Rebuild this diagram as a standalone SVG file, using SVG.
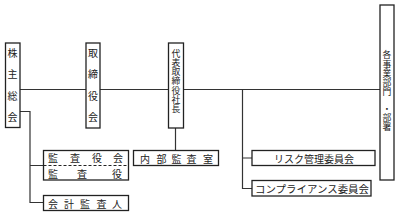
<svg xmlns="http://www.w3.org/2000/svg" width="399" height="216" viewBox="0 0 399 216">
<style>
.box{fill:#fff;stroke:#222;stroke-width:1.3}
.ln{fill:none;stroke:#333;stroke-width:1.2}
text{font-family:"Noto Sans CJK JP","Noto Sans CJK SC",sans-serif;font-size:10px;fill:#222;text-anchor:middle;dominant-baseline:central}
.v{writing-mode:vertical-rl;text-anchor:start}
.v4{font-size:10px;letter-spacing:11.5px}
.v7{font-size:8.8px;letter-spacing:0.4px}
</style>
<rect width="399" height="216" fill="#fff"/>
<g id="connectors">
<path class="ln" d="M20 89.5H380"/>
<path class="ln" d="M20 111.5H30V202.5H43.5M30 165.5H43.5"/>
<path class="ln" d="M175.5 128V150.5"/>
<path class="ln" d="M242.5 89.5V188.5H252M242.5 158H252"/>
</g>
<g id="kabunushi">
<rect class="box" x="5.5" y="43" width="14.5" height="84.5"/>
<text class="v v4" x="12.5" y="48">株主総会</text>
</g>
<g id="torishimariyakukai">
<rect class="box" x="86" y="43" width="14" height="85"/>
<text class="v v4" x="93" y="48">取締役会</text>
</g>
<g id="daihyo">
<rect class="box" x="168.5" y="43" width="15" height="85"/>
<text class="v v7" x="176" y="49">代表取締役社長</text>
</g>
<g id="jigyobumon">
<rect class="box" x="380" y="5" width="14" height="175"/>
<text class="v v7" x="387" y="50.6">各事業部門</text>
<text class="v v7" x="387" y="104">・部署</text>
</g>
<g id="kansayakukai">
<rect class="box" x="43.5" y="150.5" width="85" height="29.5"/>
<path d="M43.5 165.5H128.5" stroke="#222" stroke-width="1.2" stroke-dasharray="3,2"/>
<text x="53" y="157.5">監</text><text x="75" y="157.5">査</text><text x="97" y="157.5">役</text><text x="118" y="157.5">会</text>
<text x="53" y="173">監</text><text x="82" y="173">査</text><text x="117" y="173">役</text>
</g>
<g id="kaikeikansanin">
<rect class="box" x="43.5" y="195.5" width="85" height="15"/>
<text x="53" y="203">会</text><text x="69" y="203">計</text><text x="85" y="203">監</text><text x="101.5" y="203">査</text><text x="117" y="203">人</text>
</g>
<g id="naibukansashitsu">
<rect class="box" x="133.5" y="150.5" width="85" height="15"/>
<text x="145" y="158">内</text><text x="161.5" y="158">部</text><text x="176.5" y="158">監</text><text x="191.5" y="158">査</text><text x="208" y="158">室</text>
</g>
<g id="risk">
<rect class="box" x="252" y="150.5" width="123" height="15"/>
<text x="314" y="158">リスク管理委員会</text>
</g>
<g id="compliance">
<rect class="box" x="252" y="180.5" width="119" height="15.5"/>
<text x="312" y="188.3" textLength="114" lengthAdjust="spacingAndGlyphs">コンプライアンス委員会</text>
</g>
</svg>
